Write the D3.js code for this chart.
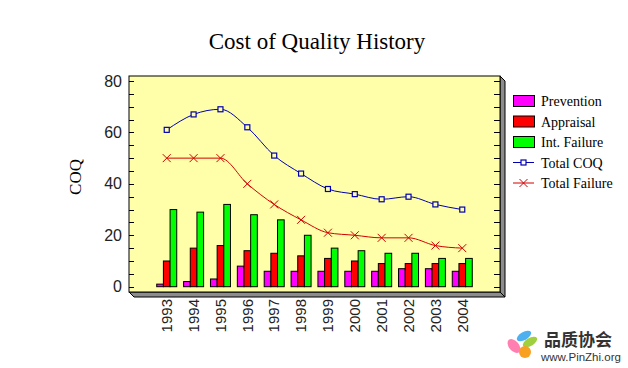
<!DOCTYPE html>
<html><head><meta charset="utf-8">
<script src="https://cdn.jsdelivr.net/npm/d3@7"></script>
<style>body{margin:0;background:#fff}svg{display:block}</style>
</head><body><svg id="c" width="628" height="368"></svg>
<script>
const years = ["1993","1994","1995","1996","1997","1998","1999","2000","2001","2002","2003","2004"];
const prevention = [1,2,3,8,6,6,6,6,6,7,7,6];
const appraisal = [10,15,16,14,13,12,11,10,9,9,9,9];
const intFailure = [30,29,32,28,26,20,15,14,13,13,11,11];
const totalCOQ = [61,67,69,62,51,44,38,36,34,35,32,30];
const totalFailure = [50,50,50,40,32,26,21,20,19,19,16,15];
const yTicks = [0,20,40,60,80];
const barSeries = ["Prevention","Appraisal","Int. Failure"];
const lineSeries = ["Total COQ","Total Failure"];

const svg = d3.select("#c");
const L=129, R=500, T=76, B=292, D=5;
const y = d3.scaleLinear().domain([0,80]).range([286.7,81]);
const x = d3.scaleBand().domain(years).range([153.3,475.7]);
const xs = d3.scaleBand().domain(barSeries).range([-10,10]);
const barColors = ["#ff00ff","#ff0000","#00ff00"];
const barData = [prevention, appraisal, intFailure];

// 3D box
svg.append("polygon").attr("points",`${L},${B} ${R},${B} ${R+D},${B+D} ${L+D},${B+D}`).attr("fill","#8c8c8c").attr("stroke","#000");
svg.append("polygon").attr("points",`${R},${T} ${R+D},${T+D} ${R+D},${B+D} ${R},${B}`).attr("fill","#8c8c8c").attr("stroke","#000");
svg.append("rect").attr("x",L).attr("y",T).attr("width",R-L).attr("height",B-T).attr("fill","#ffffaa").attr("stroke","#000");

// minor ticks every 5
const minor = d3.range(0,81,5);
svg.append("g").selectAll("line").data(minor).join("line")
  .attr("x1",L).attr("x2",L+5).attr("y1",d=>Math.round(y(d))+0.5).attr("y2",d=>Math.round(y(d))+0.5).attr("stroke","#000");
svg.append("g").selectAll("line").data(minor).join("line")
  .attr("x1",R-6).attr("x2",R).attr("y1",d=>Math.round(y(d))+0.5).attr("y2",d=>Math.round(y(d))+0.5).attr("stroke","#000");

// y axis labels
const ya = svg.append("g").attr("transform",`translate(${L},0)`)
  .call(d3.axisLeft(y).tickValues(yTicks).tickSize(0).tickPadding(7));
ya.select(".domain").remove();
ya.selectAll("text").attr("font-family","'Liberation Sans',Arial,sans-serif").attr("font-size",16).attr("fill","#222");

// x axis labels
const xa = svg.append("g").attr("transform",`translate(0,${B+D})`)
  .call(d3.axisBottom(x).tickSize(0));
xa.select(".domain").remove();
xa.selectAll("text").attr("font-family","'Liberation Sans',Arial,sans-serif").attr("font-size",15).attr("fill","#222")
  .attr("transform","rotate(-90)").attr("text-anchor","end").attr("x",-2).attr("y",0).attr("dy","0.35em").attr("dx",0);

// bars
barSeries.forEach((s,si)=>{
  svg.append("g").selectAll("rect").data(years).join("rect")
    .attr("x",d=>x(d)+x.bandwidth()/2+xs(s))
    .attr("width",xs.bandwidth())
    .attr("y",(d,i)=>y(barData[si][i]))
    .attr("height",(d,i)=>y(0)-y(barData[si][i]))
    .attr("fill",barColors[si]).attr("stroke","#000").attr("stroke-width",1);
});

// lines
const cx = d=>x(d)+x.bandwidth()/2;
const lineGen = vals => d3.line().x(d=>cx(d)).y((d,i)=>y(vals[i])).curve(d3.curveMonotoneX)(years);
svg.append("path").attr("d",lineGen(totalCOQ)).attr("fill","none").attr("stroke","#0000b0").attr("stroke-width",1);
svg.append("path").attr("d",lineGen(totalFailure)).attr("fill","none").attr("stroke","#d00000").attr("stroke-width",1);
svg.append("g").selectAll("rect").data(years).join("rect")
  .attr("x",d=>cx(d)-2.5).attr("y",(d,i)=>y(totalCOQ[i])-2.5).attr("width",5).attr("height",5)
  .attr("fill","#ffffaa").attr("stroke","#0000b0").attr("stroke-width",1.2);
const xm = svg.append("g");
years.forEach((d,i)=>{
  const px=cx(d), py=y(totalFailure[i]);
  xm.append("path").attr("d",`M${px-4},${py-4}L${px+4},${py+4}M${px-4},${py+4}L${px+4},${py-4}`)
    .attr("stroke","#d00000").attr("stroke-width",1);
});

// title
svg.append("text").attr("x",317).attr("y",49).attr("text-anchor","middle")
  .attr("font-family","'Liberation Serif','Times New Roman',serif").attr("font-size",23).attr("fill","#000")
  .text("Cost of Quality History");
svg.append("text").attr("transform","translate(81,177) rotate(-90)").attr("text-anchor","middle")
  .attr("font-family","'Liberation Serif','Times New Roman',serif").attr("font-size",17).attr("fill","#000")
  .text("COQ");

// legend
const lg = svg.append("g");
const ly = d => 101 + d*20.5;
barSeries.forEach((s,i)=>{
  lg.append("rect").attr("x",513.5).attr("y",ly(i)-5.5).attr("width",21).attr("height",11).attr("fill",barColors[i]).attr("stroke","#000");
  lg.append("text").attr("x",541).attr("y",ly(i)+5).attr("font-family","'Liberation Serif','Times New Roman',serif").attr("font-size",14).text(s);
});
const lcol = ["#0000b0","#d00000"];
lineSeries.forEach((s,j)=>{
  const i=j+3, yy=ly(i);
  lg.append("line").attr("x1",513).attr("x2",534).attr("y1",yy).attr("y2",yy).attr("stroke",lcol[j]);
  if(j===0) lg.append("rect").attr("x",521).attr("y",yy-2.5).attr("width",5).attr("height",5).attr("fill","#fff").attr("stroke",lcol[j]).attr("stroke-width",1.2);
  else lg.append("path").attr("d",`M${519.5},${yy-4}L${527.5},${yy+4}M${519.5},${yy+4}L${527.5},${yy-4}`).attr("stroke",lcol[j]);
  lg.append("text").attr("x",541).attr("y",yy+5).attr("font-family","'Liberation Serif','Times New Roman',serif").attr("font-size",14).text(s);
});

// watermark
const wm = svg.append("g");
wm.append("ellipse").attr("cx",514).attr("cy",346).attr("rx",5).attr("ry",8).attr("transform","rotate(-40,514,346)").attr("fill","#ff7fb0");
wm.append("ellipse").attr("cx",524).attr("cy",336).attr("rx",8).attr("ry",4).attr("transform","rotate(-30,524,336)").attr("fill","#4fb0f0");
wm.append("ellipse").attr("cx",530).attr("cy",342).attr("rx",8).attr("ry",4).attr("transform","rotate(-30,530,342)").attr("fill","#a0d040");
wm.append("circle").attr("cx",525).attr("cy",352).attr("r",6).attr("fill","#f8a020");
wm.append("text").attr("x",544).attr("y",346).attr("font-family","'Noto Sans CJK SC',sans-serif").attr("font-weight","bold").attr("font-size",17).attr("fill","#333").text("品质协会");
wm.append("text").attr("x",541).attr("y",361).attr("font-family","'Liberation Sans',Arial,sans-serif").attr("font-size",11.5).attr("fill","#333").text("www.PinZhi.org");
</script></body></html>
